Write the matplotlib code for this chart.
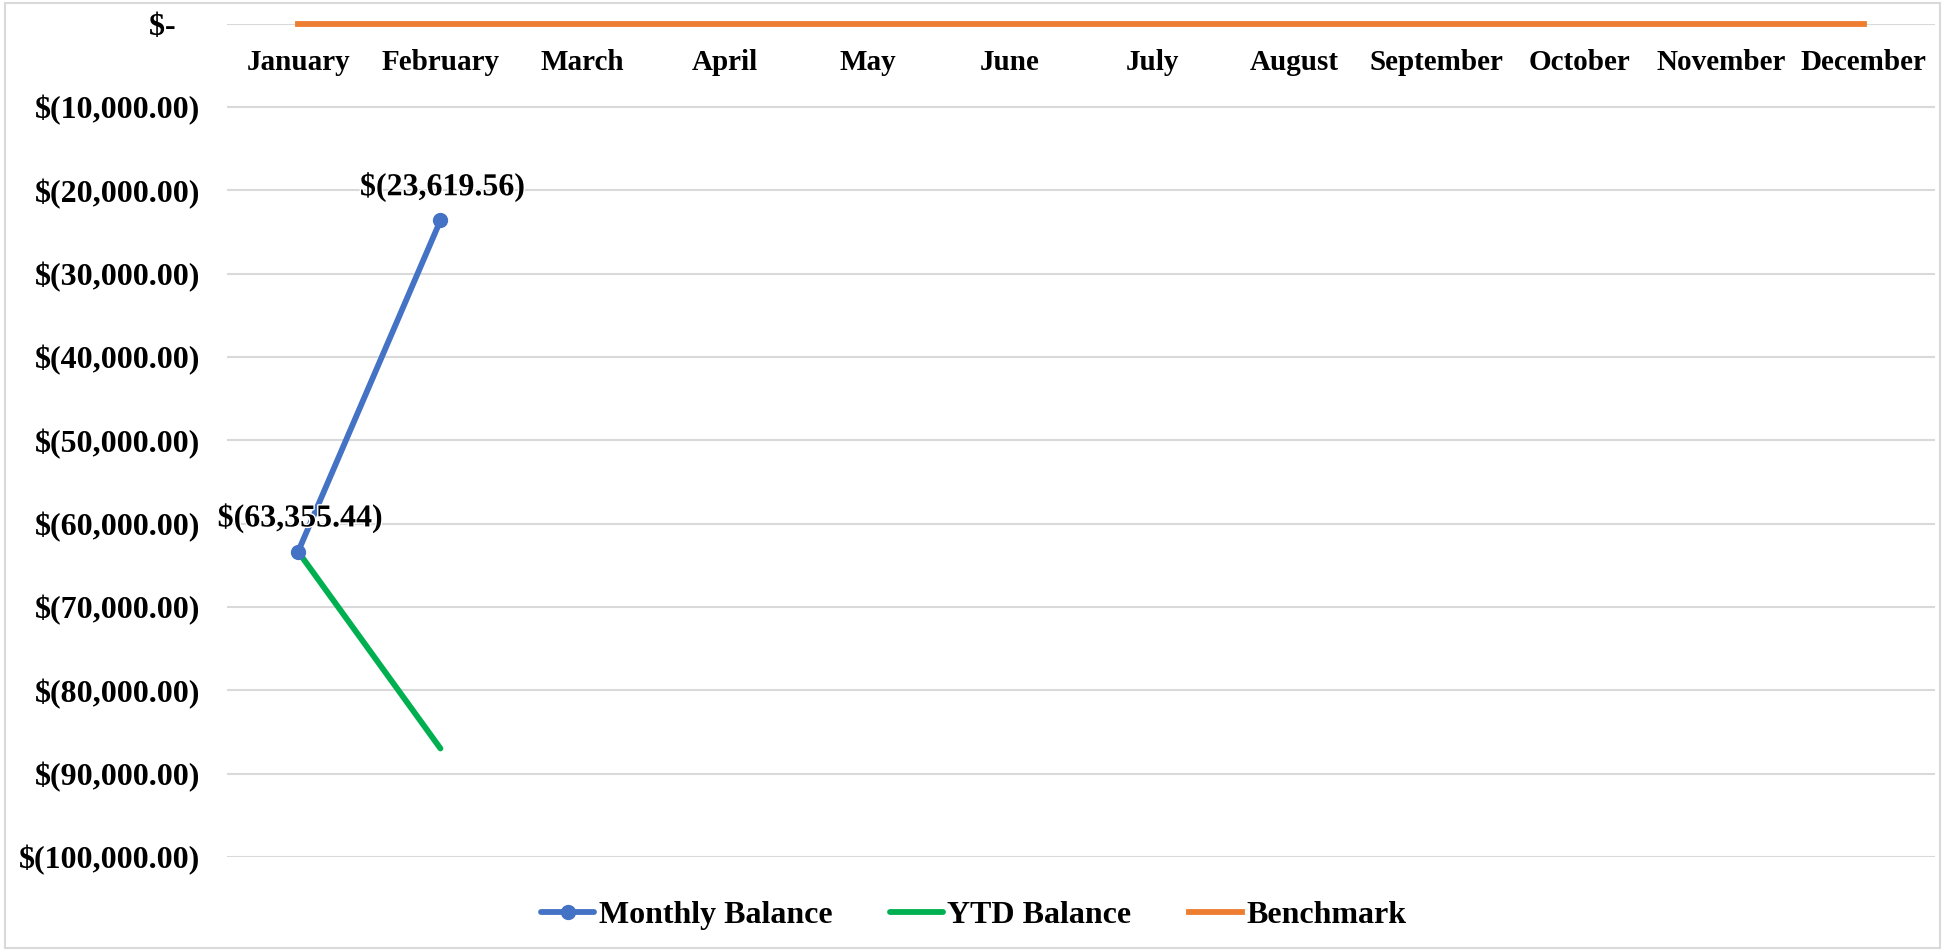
import matplotlib.pyplot as plt
import matplotlib.patheffects as pe
from matplotlib.patches import Rectangle
from matplotlib.ticker import FuncFormatter, MultipleLocator

# ----------------------------- data -----------------------------
months = ["January", "February", "March", "April", "May", "June", "July",
          "August", "September", "October", "November", "December"]
monthly_balance = [-63355.44, -23619.56]
ytd_balance = [-63355.44, -86975.00]
benchmark = [0, 0, 0, 0, 0, 0, 0, 0, 0, 0, 0, 0]

plt.rcParams['font.family'] = ['Liberation Serif', 'DejaVu Serif']
plt.rcParams['font.weight'] = 'bold'

BLUE = '#4472C4'
GREEN = '#00B050'
ORANGE = '#ED7D31'
GRID = '#D9D9D9'


def money(v, pos=None):
    if abs(v) < 0.005:
        return "$-   "
    if v < 0:
        return f"$({abs(v):,.2f})"
    return f"${v:,.2f} "


fig = plt.figure(figsize=(19.48, 9.51), dpi=100)
ax = fig.add_axes([0.1165, 0.0988, 0.9933 - 0.1165, 0.9752 - 0.0988])

x_all = list(range(len(months)))
ax.plot(x_all[:len(monthly_balance)], monthly_balance, color=BLUE, lw=4.2,
        marker='o', ms=10, label="Monthly Balance", zorder=4, solid_capstyle='round')
ax.plot(x_all[:len(ytd_balance)], ytd_balance, color=GREEN, lw=4.2,
        label="YTD Balance", zorder=3, solid_capstyle='round')
ax.plot(x_all, benchmark, color=ORANGE, lw=4.2, label="Benchmark",
        zorder=3, clip_on=False)

# data labels
for i, v in enumerate(monthly_balance):
    ax.annotate(money(v), (i, v), xytext=(1.5, 24), textcoords='offset points',
                ha='center', va='center', fontsize=23, fontweight='bold',
                zorder=5,
                path_effects=[pe.withStroke(linewidth=2, foreground='white')])

ax.set_xlim(-0.5, len(months) - 0.5)
ax.set_ylim(-100000, 0)
ax.yaxis.set_major_locator(MultipleLocator(10000))
ax.yaxis.set_major_formatter(FuncFormatter(money))
ax.set_xticks(x_all)
ax.set_xticklabels(months)

ax.grid(axis='y', color=GRID, lw=1.5, zorder=0)
ax.set_axisbelow(True)
for s in ['top', 'right', 'left']:
    ax.spines[s].set_visible(False)
ax.spines['bottom'].set_position(('data', 0))
ax.spines['bottom'].set_visible(False)

ax.tick_params(axis='x', length=0, pad=18, labelsize=21)
ax.tick_params(axis='y', length=0, pad=19.5, labelsize=23)
for t in ax.get_xticklabels() + ax.get_yticklabels():
    t.set_fontweight('bold')

leg = fig.legend(loc='center', bbox_to_anchor=(0.5, 0.037), ncol=3, frameon=False,
                 handlelength=1.65, handletextpad=0.15,
                 columnspacing=1.8, prop={'weight': 'bold', 'size': 23})

# chart border
fig.patches.append(Rectangle((5 / 1948, 3 / 951), 1935 / 1948, 945 / 951,
                             transform=fig.transFigure, fill=False,
                             edgecolor=GRID, lw=1.5))

fig.savefig("out.png", dpi=100)
